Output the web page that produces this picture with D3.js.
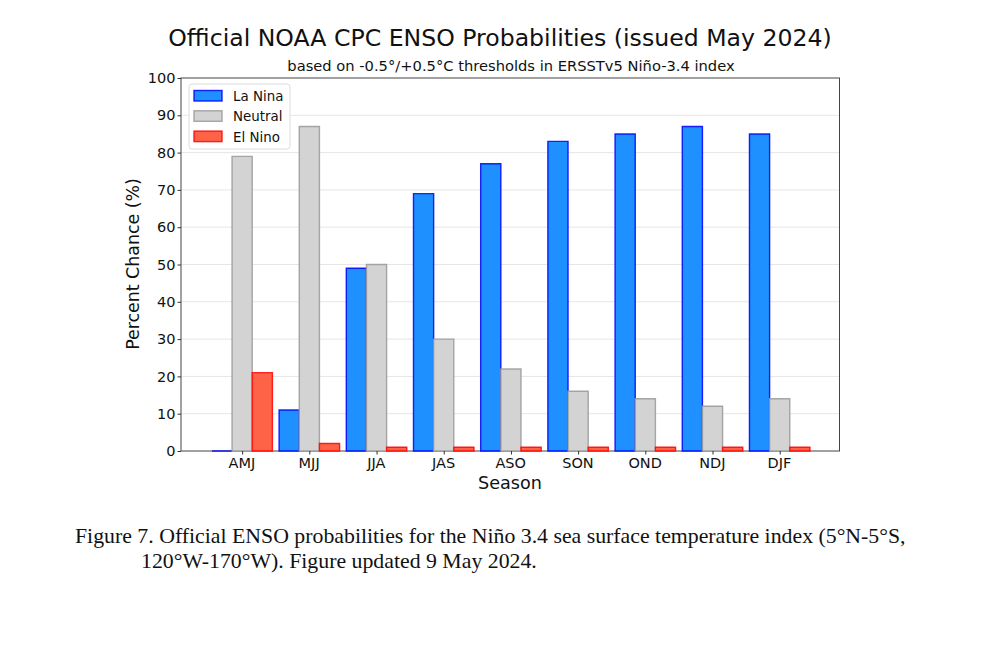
<!DOCTYPE html>
<html>
<head>
<meta charset="utf-8">
<script src="https://d3js.org/d3.v7.min.js"></script>
<style>
html, body { margin: 0; padding: 0; background: #fff; }
svg { display: block; }
</style>
</head>
<body>
<div id="chart"></div>
<script>
// values
var seasons = ["AMJ", "MJJ", "JJA", "JAS", "ASO", "SON", "OND", "NDJ", "DJF"];
var laNina = [0, 11, 49, 69, 77, 83, 85, 87, 85];
var neutral = [79, 87, 50, 30, 22, 16, 14, 12, 14];
var elNino = [21, 2, 1, 1, 1, 1, 1, 1, 1];
var yTicks = [0, 10, 20, 30, 40, 50, 60, 70, 80, 90, 100];
var seriesNames = ["La Nina", "Neutral", "El Nino"];
var captionLines = [
	"Figure 7. Official ENSO probabilities for the Niño 3.4 sea surface temperature index (5°N-5°S,",
	"120°W-170°W). Figure updated 9 May 2024."
];

WIDTH = 1000
HEIGHT = 646
LEFT = 181
RIGHT = 839.5
TOP = 78
BOTTOM = 451
SANS = "'DejaVu Sans', sans-serif"
SERIF = "'Liberation Serif', serif"

var series = [
	{name: seriesNames[0], values: laNina, fill: "#1e90ff", stroke: "#0000ff", offset: -0.3},
	{name: seriesNames[1], values: neutral, fill: "#d3d3d3", stroke: "#999999", offset: 0},
	{name: seriesNames[2], values: elNino, fill: "#ff6347", stroke: "#ff0000", offset: 0.3}
];

var svg = d3.select("#chart").append("svg")
	.attr("width", WIDTH)
	.attr("height", HEIGHT);

var x = d3.scaleLinear().domain([-0.91, 8.89]).range([LEFT, RIGHT]);
var y = d3.scaleLinear().domain([0, 100]).range([BOTTOM, TOP]);
var barWidth = x(0.3) - x(0);

// Gridlines
svg.append("g").selectAll("line")
	.data(yTicks.slice(1, -1))
	.join("line")
	.attr("x1", LEFT)
	.attr("x2", RIGHT)
	.attr("y1", d => y(d))
	.attr("y2", d => y(d))
	.style("stroke", "#e6e6e6")
	.style("stroke-width", "1px");

// Plot frame
svg.append("rect")
	.attr("x", LEFT)
	.attr("y", TOP)
	.attr("width", RIGHT - LEFT)
	.attr("height", BOTTOM - TOP)
	.style("fill", "none")
	.style("stroke", "#444")
	.style("stroke-width", "1px");

// Bars, as paths so the zero height La Nina bar still shows its outline
function barPath(d, i, offset) {
	var p = d3.path();
	p.rect(x(i + offset) - barWidth / 2, y(d), barWidth, y(0) - y(d));
	return p.toString();
}

series.forEach(function(s) {
	svg.append("g").selectAll("path")
		.data(s.values)
		.join("path")
		.attr("d", (d, i) => barPath(d, i, s.offset))
		.style("fill", s.fill)
		.style("stroke", s.stroke)
		.style("stroke-opacity", 0.85)
		.style("stroke-width", "1.4px");
});

// Axes
var xAxis = d3.axisBottom(x)
	.tickValues(d3.range(seasons.length))
	.tickFormat(i => seasons[i])
	.tickSize(3.5)
	.tickPadding(3);
var yAxis = d3.axisLeft(y)
	.tickValues(yTicks)
	.tickSize(3.5)
	.tickPadding(2);

svg.append("g").attr("class", "axis x-axis")
	.attr("transform", "translate(0," + BOTTOM + ")")
	.call(xAxis);
svg.append("g").attr("class", "axis")
	.attr("transform", "translate(" + LEFT + ",0)")
	.call(yAxis);

svg.selectAll(".axis text")
	.style("font-family", SANS)
	.style("font-size", "14.5px")
	.style("fill", "#111");
svg.selectAll(".x-axis text").attr("dx", -0.7);
svg.selectAll(".axis line").style("stroke", "#333");
svg.selectAll(".axis .domain").remove();

// Legend
var legend = svg.append("g").attr("transform", "translate(189,84)");
legend.append("rect")
	.attr("width", 101)
	.attr("height", 65)
	.attr("rx", 3)
	.style("fill", "#fff")
	.style("fill-opacity", 0.85)
	.style("stroke", "#dcdcdc");
series.forEach(function(s, i) {
	legend.append("rect")
		.attr("x", 5)
		.attr("y", 6.5 + i * 20.3)
		.attr("width", 28)
		.attr("height", 10.5)
		.style("fill", s.fill)
		.style("stroke", s.stroke)
		.style("stroke-opacity", 0.85)
		.style("stroke-width", "1.4px");
	legend.append("text")
		.attr("x", 44)
		.attr("y", 17 + i * 20.3)
		.style("font-family", SANS)
		.style("font-size", "13.4px")
		.style("fill", "#111")
		.text(s.name);
});

// Titles and axis labels
svg.append("text")
	.attr("x", 500)
	.attr("y", 46)
	.attr("text-anchor", "middle")
	.style("font-family", SANS)
	.style("font-size", "23.6px")
	.style("fill", "#111")
	.text("Official NOAA CPC ENSO Probabilities (issued May 2024)");

svg.append("text")
	.attr("x", 511)
	.attr("y", 71)
	.attr("text-anchor", "middle")
	.style("font-family", SANS)
	.style("font-size", "14.7px")
	.style("fill", "#111")
	.text("based on -0.5°/+0.5°C thresholds in ERSSTv5 Niño-3.4 index");

svg.append("text")
	.attr("x", 510)
	.attr("y", 489)
	.attr("text-anchor", "middle")
	.style("font-family", SANS)
	.style("font-size", "17.6px")
	.style("fill", "#111")
	.text("Season");

svg.append("text")
	.attr("transform", "translate(139,264) rotate(-90)")
	.attr("text-anchor", "middle")
	.style("font-family", SANS)
	.style("font-size", "17.4px")
	.style("fill", "#111")
	.text("Percent Chance (%)");

// Caption
svg.append("text")
	.attr("x", 75)
	.attr("y", 543)
	.style("font-family", SERIF)
	.style("font-size", "21.8px")
	.style("fill", "#111")
	.text(captionLines[0]);
svg.append("text")
	.attr("x", 141)
	.attr("y", 568)
	.style("font-family", SERIF)
	.style("font-size", "21.8px")
	.style("fill", "#111")
	.text(captionLines[1]);
</script>
</body>
</html>
